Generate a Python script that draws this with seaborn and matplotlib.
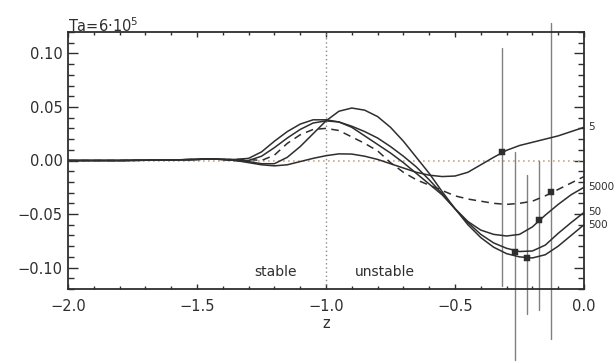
import numpy as np
import pandas as pd
import matplotlib
matplotlib.use("Agg")
import matplotlib.pyplot as plt
import seaborn as sns
from matplotlib.ticker import MultipleLocator, FuncFormatter

# ---------------- data ----------------
z = [-2.0, -1.8, -1.6, -1.5, -1.45, -1.4, -1.35, -1.3, -1.25, -1.2, -1.15, -1.1,
     -1.05, -1.0, -0.95, -0.9, -0.85, -0.8, -0.75, -0.7, -0.65, -0.6, -0.55,
     -0.5, -0.45, -0.4, -0.35, -0.3, -0.25, -0.2, -0.15, -0.1, -0.05, 0.0]

ta5 = [0.0, 0.0, 0.0005, 0.001, 0.0015, 0.001, 0.0, -0.002, -0.004, -0.005, -0.004, -0.001,
       0.002, 0.0045, 0.0062, 0.006, 0.004, 0.001, -0.003, -0.007, -0.011, -0.0137, -0.015,
       -0.0145, -0.011, -0.004, 0.003, 0.0095, 0.014, 0.017, 0.020, 0.023, 0.027, 0.031]

ta5000 = [0.0, 0.0, 0.0005, 0.001, 0.0015, 0.001, 0.001, 0.002, 0.008, 0.018, 0.027, 0.034,
          0.038, 0.038, 0.036, 0.032, 0.027, 0.021, 0.013, 0.004, -0.006, -0.018, -0.031,
          -0.045, -0.057, -0.065, -0.069, -0.0705, -0.069, -0.062, -0.051, -0.041, -0.032, -0.025]

ta50 = [0.0, 0.0, 0.0005, 0.001, 0.0015, 0.001, 0.0, 0.0, 0.004, 0.012, 0.021, 0.029,
        0.035, 0.037, 0.036, 0.031, 0.023, 0.015, 0.007, -0.002, -0.012, -0.022, -0.032,
        -0.045, -0.058, -0.069, -0.077, -0.082, -0.085, -0.0845, -0.079, -0.068, -0.058, -0.0485]

ta500 = [0.0, 0.0, 0.0005, 0.001, 0.0015, 0.001, 0.0, -0.001, -0.003, -0.003, 0.003, 0.013,
         0.025, 0.037, 0.046, 0.049, 0.047, 0.041, 0.031, 0.018, 0.003, -0.012, -0.029,
         -0.045, -0.060, -0.072, -0.081, -0.087, -0.090, -0.091, -0.088, -0.080, -0.070, -0.060]

mean_curve = [0.0, 0.0, 0.0005, 0.001, 0.0015, 0.001, 0.001, 0.001, 0.0, 0.005, 0.016, 0.024,
              0.029, 0.030, 0.028, 0.022, 0.016, 0.009, -0.002, -0.011, -0.018, -0.023, -0.028,
              -0.033, -0.036, -0.038, -0.040, -0.041, -0.040, -0.038, -0.033, -0.027, -0.021, -0.015]

# markers with vertical bars
bar_z = [-0.318, -0.267, -0.221, -0.174, -0.129]
bar_y = [0.008, -0.085, -0.0906, -0.056, -0.0295]
bar_lo = [-0.117, -0.186, -0.143, -0.140, -0.167]
bar_hi = [0.105, 0.008, -0.014, 0.0, 0.128]

end_labels = ["5", "5000", "50", "500"]
end_label_y = [0.031, -0.025, -0.0485, -0.060]

# ---------------- plot ----------------
sns.set_style("ticks")
plt.rcParams['font.family'] = ['DejaVu Sans']

fig = plt.figure(figsize=(6.16, 3.63), dpi=100)
ax = fig.add_axes([68 / 616, 1 - 289 / 363, (584 - 68) / 616, (289 - 32) / 363])

dark = "#2e2e2e"
ax.axhline(0, color="#c4a98f", ls=(0, (1, 2)), lw=1.2, zorder=1)
ax.axvline(-1.0, color="#8a8a8a", ls=(0, (1, 2)), lw=1.0, zorder=1)

for vals in [ta5, ta5000, ta50, ta500]:
    sns.lineplot(x=z, y=vals, ax=ax, color=dark, lw=1.1, zorder=3)
sns.lineplot(x=z, y=mean_curve, ax=ax, color=dark, lw=1.1, zorder=3)
ax.lines[-1].set_dashes((5, 3.5))

for bz, by, lo, hi in zip(bar_z, bar_y, bar_lo, bar_hi):
    ax.plot([bz, bz], [lo, hi], color="#808080", lw=1.0, clip_on=False, zorder=2)
sns.scatterplot(x=bar_z, y=bar_y, ax=ax, marker="s", s=16, color=dark,
                edgecolor=dark, zorder=4, clip_on=False)

for lab, ly in zip(end_labels, end_label_y):
    ax.annotate(lab, xy=(1.0, ly), xycoords=("axes fraction", "data"),
                xytext=(3, 0), textcoords="offset points",
                ha="left", va="center", fontsize=7.5, color=dark)

ax.text(-1.194, -0.104, "stable", ha="center", va="center", fontsize=10, color=dark)
ax.text(-0.773, -0.104, "unstable", ha="center", va="center", fontsize=10, color=dark)
ax.text(0.0, 1.0, "Ta=6\u00b710$^5$", transform=ax.transAxes, ha="left", va="baseline",
        fontsize=10.5, color=dark)

ax.set_xlim(-2.0, 0.0)
ax.set_ylim(-0.12, 0.12)
ax.xaxis.set_major_locator(MultipleLocator(0.5))
ax.xaxis.set_minor_locator(MultipleLocator(0.1))
ax.yaxis.set_major_locator(MultipleLocator(0.05))
ax.yaxis.set_minor_locator(MultipleLocator(0.01))
ax.xaxis.set_major_formatter(FuncFormatter(
    lambda v, p: ("%.1f" % v).replace("-", "\u2212").replace("\u22120.0", "0.0")))
ax.yaxis.set_major_formatter(FuncFormatter(
    lambda v, p: ("%.2f" % v).replace("-", "\u2212").replace("\u22120.00", "0.00")))

ax.tick_params(axis="both", which="both", direction="in", top=True, right=True,
               colors=dark, labelsize=10.5, width=1.0)
ax.tick_params(axis="x", which="major", length=3.5, pad=7)
ax.tick_params(axis="x", which="minor", length=2)
ax.tick_params(axis="y", which="major", length=7, pad=4)
ax.tick_params(axis="y", which="minor", length=4)
ax.tick_params(axis="y", right=True, labelright=False)
for sp in ax.spines.values():
    sp.set_linewidth(1.3)
    sp.set_color(dark)

ax.set_xlabel("z", fontsize=10.5, color=dark, labelpad=2)
ax.set_ylabel("")

fig.savefig("out.png", dpi=100)
